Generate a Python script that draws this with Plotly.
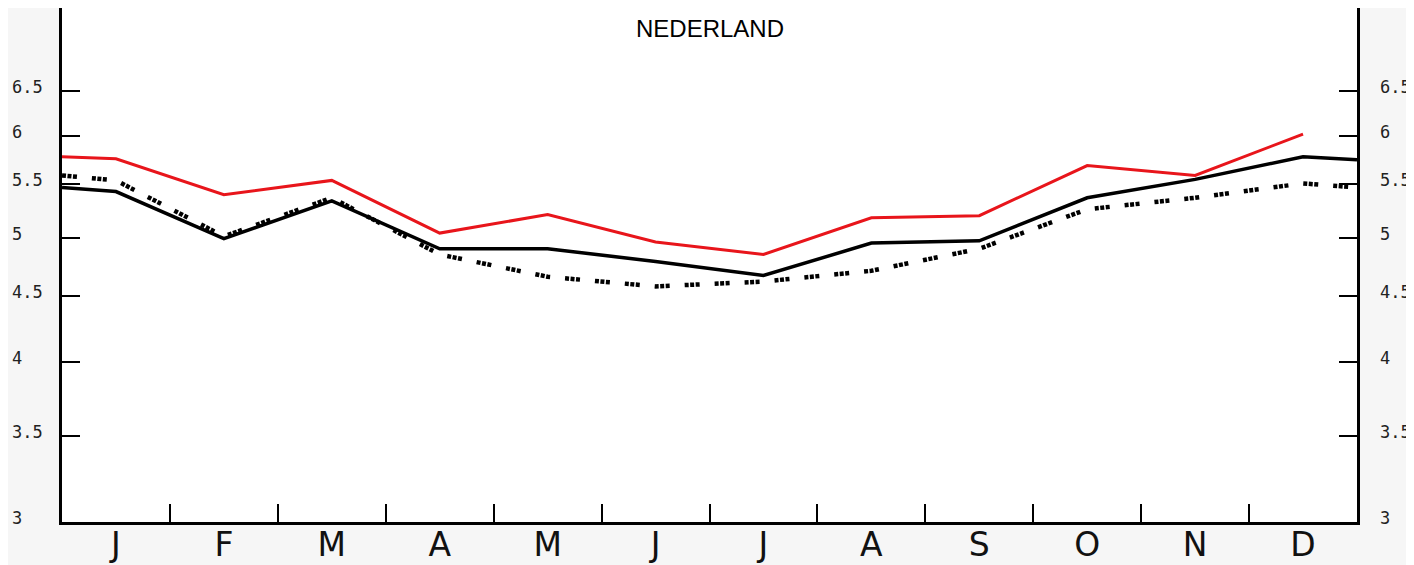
import math
import plotly.graph_objects as go

# ---------------- data ----------------
months = ["J", "F", "M", "A", "M", "J", "J", "A", "S", "O", "N", "D"]

# red solid series: value at left edge + monthly values (ends at December)
red_start = 5.78
red_vals = [5.76, 5.40, 5.54, 5.04, 5.21, 4.96, 4.85, 5.18, 5.20, 5.69, 5.59, 6.02]

# black solid series: left edge + monthly + right edge
black_start = 5.47
black_vals = [5.43, 4.99, 5.34, 4.90, 4.90, 4.79, 4.67, 4.95, 4.97, 5.37, 5.55, 5.78]
black_end = 5.75

# black dotted series: left edge + monthly + right edge
dot_start = 5.59
dot_vals = [5.54, 5.01, 5.37, 4.85, 4.66, 4.58, 4.62, 4.71, 4.90, 5.26, 5.37, 5.51]
dot_end = 5.47

ytick_vals = [3, 3.5, 4, 4.5, 5, 5.5, 6, 6.5]
ytick_text = ["3", "3.5", "4", "4.5", "5", "5.5", "6", "6.5"]

title_text = "NEDERLAND"

# ---------------- figure ----------------
n = len(months)
centers = [i + 0.5 for i in range(n)]

fig = go.Figure()

fig.add_trace(go.Scatter(
    x=[0] + centers + [n], y=[dot_start] + dot_vals + [dot_end],
    mode="lines", line=dict(color="black", width=4.5,
                            dash="4px,1.5px,4px,1.5px,4px,15px"),
    showlegend=False, hoverinfo="skip"))

fig.add_trace(go.Scatter(
    x=[0] + centers + [n], y=[black_start] + black_vals + [black_end],
    mode="lines", line=dict(color="black", width=3.5),
    showlegend=False, hoverinfo="skip"))

fig.add_trace(go.Scatter(
    x=[0] + centers, y=[red_start] + red_vals,
    mode="lines", line=dict(color="#e8151b", width=3),
    showlegend=False, hoverinfo="skip"))

ymin, ymax = 3.0, 7.55

annotations = []
for v, t in zip(ytick_vals, ytick_text):
    for xp in (-0.0402, 1.0162):
        annotations.append(dict(
            x=xp, xref="paper", y=math.log10(v), yref="y",
            text=t, showarrow=False, xanchor="left", yanchor="middle",
            yshift=4, font=dict(family="DejaVu Sans Mono", size=17, color="#222")))

annotations.append(dict(
    x=0.5, xref="paper", y=0.961, yref="paper", text=title_text,
    showarrow=False, xanchor="center", yanchor="middle",
    font=dict(family="Liberation Sans", size=24, color="black")))

# page body has an 8px default margin, so the figure is offset by 8px
fig.update_layout(
    width=1406, height=557, autosize=False,
    margin=dict(l=54, r=57, t=0, b=43, pad=0, autoexpand=False),
    paper_bgcolor="#f6f6f6", plot_bgcolor="white",
    annotations=annotations,
    xaxis=dict(
        range=[0, n], showgrid=False, zeroline=False, automargin=False,
        showline=True, linecolor="black", linewidth=3, mirror=False,
        tickmode="array", tickvals=centers, ticktext=months, ticks="",
        tickfont=dict(family="DejaVu Sans", size=33, color="#111"),
        ticklabelstandoff=-9,
        minor=dict(tickmode="array", tickvals=list(range(1, n)),
                   ticks="inside", ticklen=18, tickwidth=2, tickcolor="black",
                   showgrid=False),
    ),
    yaxis=dict(
        type="log", range=[math.log10(ymin), math.log10(ymax)],
        showgrid=False, zeroline=False, automargin=False,
        showline=True, linecolor="black", linewidth=3, mirror="ticks",
        tickmode="array", tickvals=ytick_vals[1:], ticks="inside",
        ticklen=18, tickwidth=1.5, tickcolor="black",
        showticklabels=False,
    ),
)

fig.write_html("out.html")
